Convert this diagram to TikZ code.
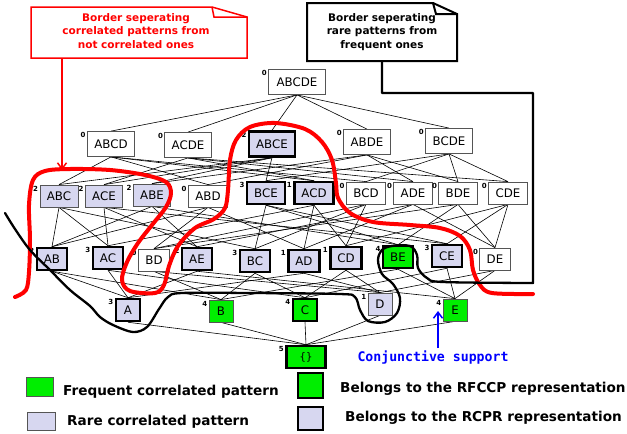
\documentclass[tikz,border=0pt]{standalone}
\usepackage{fontspec}
\setmainfont{DejaVu Sans}
\newfontfamily\monobold{DejaVu Sans Mono}
\usetikzlibrary{arrows.meta,backgrounds}
\definecolor{lav}{RGB}{215,215,240}
\definecolor{grn}{RGB}{0,238,0}
\definecolor{bord}{RGB}{85,85,85}
\newcommand\lnode[5]{\node[#1] (#2) at (#3) {#4};\node[sup] (s#2) at ([xshift=-1.2pt,yshift=-1.5pt]#2.north west) {#5};}
\begin{document}
\begin{tikzpicture}[x=1pt,y=-1pt,
  box/.style={draw=bord, line width=0.8pt, font=\fontsize{11.8}{13}\selectfont, inner xsep=7pt, inner ysep=0pt, minimum height=22pt, minimum width=24pt},
  plain/.style={box, fill=white},
  rare/.style={box, fill=lav},
  rarek/.style={box, fill=lav, draw=black, line width=2.5pt},
  freq/.style={box, fill=grn},
  freqk/.style={box, fill=grn, draw=black, line width=2.5pt},
  tall/.style={minimum height=25pt},
  sup/.style={font=\fontsize{7}{7}\bfseries\selectfont, inner sep=0pt, anchor=north east},
  edge/.style={line width=0.6pt},
  redcurve/.style={red, line width=4pt, line cap=round, line join=round},
  blkcurve/.style={black, line width=2.3pt, line cap=round, line join=round},
  notetext/.style={font=\fontsize{10.5}{13.5}\bfseries\selectfont, align=center, inner sep=0pt},
  legtext/.style={font=\fontsize{13.6}{15}\bfseries\selectfont, anchor=west, inner sep=0pt},
  ]
\useasboundingbox (0,0) rectangle (627,434);
% level 0
\lnode{plain,tall,inner xsep=8pt}{ABCDE}{297,82}{ABCDE}{0}
% level 1
\lnode{plain,tall}{ABCD}{111,144}{ABCD}{0}
\lnode{plain,tall}{ACDE}{188,145}{ACDE}{0}
\lnode{rarek,tall}{ABCE}{272,144}{ABCE}{2}
\lnode{plain,tall}{ABDE}{367,142}{ABDE}{0}
\lnode{plain,tall}{BCDE}{449,141}{BCDE}{0}
% level 2
\lnode{rare}{ABC}{59,196}{ABC}{2}
\lnode{rare}{ACE}{104,196}{ACE}{2}
\lnode{rare}{ABE}{152,195}{ABE}{2}
\lnode{plain}{ABD}{208,196}{ABD}{0}
\lnode{rarek}{BCE}{266,193}{BCE}{3}
\lnode{rarek}{ACD}{314,193}{ACD}{1}
\lnode{plain}{BCD}{366,193}{BCD}{0}
\lnode{plain}{ADE}{413,193}{ADE}{0}
\lnode{plain}{BDE}{458,193}{BDE}{0}
\lnode{plain}{CDE}{508,193}{CDE}{0}
% level 3
\lnode{rarek}{AB}{52,259}{AB}{2}
\lnode{rarek}{AC}{108,258}{AC}{3}
\lnode{plain}{BD}{154,260}{BD}{0}
\lnode{rarek}{AE}{197,259}{AE}{2}
\lnode{rarek}{BC}{255,261}{BC}{3}
\lnode{rarek}{AD}{304,261}{AD}{1}
\lnode{rarek}{CD}{346,258}{CD}{1}
\lnode{freqk}{BE}{398,257}{BE}{4}
\lnode{rarek}{CE}{447,256}{CE}{3}
\lnode{plain}{DE}{495,259}{DE}{0}
% level 4
\lnode{rarek}{A}{128,310}{A}{3}
\lnode{freq}{B}{221,311}{B}{4}
\lnode{freqk}{C}{305,310}{C}{4}
\lnode{rare}{D}{380,304}{D}{1}
\lnode{freq}{E}{455,310}{E}{4}
% level 5
\lnode{freqk,minimum width=39pt,font=\monobold\fontsize{10.5}{12}\selectfont}{EMPTY}{306,357}{\{\}}{5}
% edges
\begin{scope}[on background layer]
\foreach \a/\b in {ABCDE/ABCD,ABCDE/ACDE,ABCDE/ABCE,ABCDE/ABDE,ABCDE/BCDE,
  ABCD/ABC,ABCD/ABD,ABCD/ACD,ABCD/BCD,
  ACDE/ACD,ACDE/ACE,ACDE/ADE,ACDE/CDE,
  ABCE/ABC,ABCE/ABE,ABCE/ACE,ABCE/BCE,
  ABDE/ABD,ABDE/ABE,ABDE/ADE,ABDE/BDE,
  BCDE/BCD,BCDE/BCE,BCDE/BDE,BCDE/CDE,
  ABC/AB,ABC/AC,ABC/BC, ACE/AC,ACE/AE,ACE/CE, ABE/AB,ABE/AE,ABE/BE,
  ABD/AB,ABD/AD,ABD/BD, BCE/BC,BCE/BE,BCE/CE, ACD/AC,ACD/AD,ACD/CD,
  BCD/BC,BCD/BD,BCD/CD, ADE/AD,ADE/AE,ADE/DE, BDE/BD,BDE/BE,BDE/DE,
  CDE/CD,CDE/CE,CDE/DE,
  AB/A,AB/B, AC/A,AC/C, BD/B,BD/D, AE/A,AE/E, BC/B,BC/C, AD/A,AD/D,
  CD/C,CD/D, BE/B,BE/E, CE/C,CE/E, DE/D,DE/E,
  A/EMPTY,B/EMPTY,C/EMPTY,D/EMPTY,E/EMPTY}
  \draw[edge] (\a.south) -- (\b.north);
\end{scope}
% red border
\draw[redcurve] plot[smooth, tension=0.55] coordinates {(15,297) (26,290) (29,272) (30,240) (29,205) (33,180) (45,171) (70,169) (110,170) (145,175) (166,182) (171,193) (166,207) (152,225) (138,243) (127,262) (122,280) (130,291) (155,293) (164,285) (169,266) (178,246) (195,228) (214,219) (225,208) (228,190) (230,160) (236,140) (250,127) (275,123) (305,129) (322,142) (332,160) (336,183) (338,198) (350,213) (373,222) (410,225) (440,228) (460,236) (470,250) (473,270) (480,285) (492,293) (533,294)};
% black border
\coordinate (bend1) at (533,93);
\coordinate (bend2) at (382,93);
\draw[blkcurve] plot[smooth, tension=0.55] coordinates {(5,213) (15,229) (30,250) (50,270) (70,290) (90,306) (100,317) (113,325) (133,332) (147,327) (159,309) (168,297) (182,293) (250,293) (340,294) (355,297) (360,310) (368,321) (385,322) (397,313) (400,298) (393,284) (382,274) (378,260) (382,250) (392,246) (410,246) (417,255) (418,268) (427,278) (443,282) (533,283)} -- (bend1) -- (bend2) -- (382,61);
% red note
\draw[red, line width=1.5pt, line join=miter, fill=white] (31,7) -- (212,7) -- (247,17) -- (247,58) -- (31,58) -- cycle;
\draw[red, line width=1.5pt] (212,7) -- (214,17) -- (247,17);
\node[notetext, red] (rednote) at (136,31) {Border seperating\\correlated patterns from\\not correlated ones};
\coordinate (redtip) at (62,170);
\draw[red, line width=1.5pt, -{Straight Barb[length=6pt,width=9pt]}] (62,58) -- (redtip);
% black note
\draw[black, line width=2pt, line join=miter, fill=white] (307,3) -- (433,3) -- (457,14) -- (457,61) -- (307,61) -- cycle;
\draw[black, line width=2pt] (433,3) -- (436,14) -- (457,14);
\node[notetext] (blknote) at (382,32) {Border seperating\\rare patterns from\\frequent ones};
% conjunctive support
\node[font=\monobold\bfseries\fontsize{13.2}{15}\selectfont, text=blue, inner sep=1pt] (conj) at (433,358) {Conjunctive support};
\coordinate (conjtip) at (438,311);
\draw[blue, line width=1.5pt, -{Straight Barb[length=6pt,width=9pt]}] (438,348) -- (conjtip);
% legend
\node[freq, minimum width=27pt, minimum height=19pt] (lg1) at (39.5,386.5) {};
\node[legtext] (lt1) at (63,392) {Frequent correlated pattern};
\node[rare, minimum width=28pt, minimum height=18pt] (lg2) at (41,421) {};
\node[legtext] (lt2) at (67,422) {Rare correlated pattern};
\node[freqk, minimum width=25pt, minimum height=25pt] (lg3) at (310.5,385.5) {};
\node[legtext] (lt3) at (340,389) {Belongs to the RFCCP representation};
\node[rarek, minimum width=25pt, minimum height=23pt] (lg4) at (310.5,418.5) {};
\node[legtext] (lt4) at (345,418) {Belongs to the RCPR representation};
\end{tikzpicture}
\end{document}
